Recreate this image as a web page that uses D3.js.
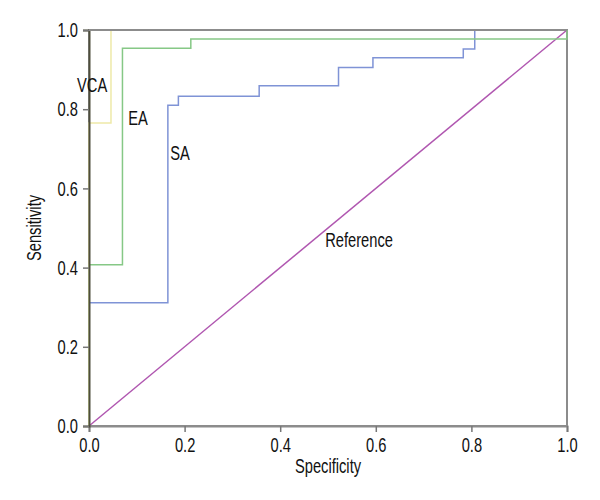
<!DOCTYPE html>
<html><head><meta charset="utf-8">
<script src="https://cdn.jsdelivr.net/npm/d3@7"></script>
<style>
body{margin:0;background:#fff;}
text{font-family:"Liberation Sans",Arial,sans-serif;}
</style></head>
<body>
<svg id="chart" width="600" height="500"></svg>
<script>
const tickValues = [0.0, 0.2, 0.4, 0.6, 0.8, 1.0];
const refX = [0, 1];
const refY = [0, 1];
const vcaX = [0, 0, 0.046, 0.046, 1];
const vcaY = [0, 0.765, 0.765, 1, 1];
const eaX = [0, 0, 0.07, 0.07, 0.213, 0.213, 1, 1];
const eaY = [0, 0.407, 0.407, 0.954, 0.954, 0.977, 0.977, 1];
const saX = [0, 0, 0.165, 0.165, 0.187, 0.187, 0.356, 0.356, 0.522, 0.522, 0.594, 0.594, 0.783, 0.783, 0.807, 0.807, 1];
const saY = [0, 0.311, 0.311, 0.81, 0.81, 0.833, 0.833, 0.859, 0.859, 0.905, 0.905, 0.93, 0.93, 0.952, 0.952, 1, 1];
const labelNames = ["VCA", "EA", "SA", "Reference"];
const labelX = [-0.025, 0.082, 0.17, 0.494];
const labelY = [0.843, 0.76, 0.672, 0.452];

const SX = 0.7;   // horizontal condensing of text
const FS = 21;
const svg = d3.select("#chart");
const x = d3.scaleLinear().domain([0, 1]).range([89, 567]);
const y = d3.scaleLinear().domain([0, 1]).range([426, 30]);
const fmt = d3.format(".1f");

svg.append("rect").attr("x", x(0)).attr("y", y(1)).attr("width", x(1) - x(0)).attr("height", y(0) - y(1))
  .attr("fill", "none").attr("stroke", "#8c8c8c").attr("stroke-width", 2);

const line = d3.line().x(d => x(d[0])).y(d => y(d[1]));
function series(xs, ys, color, w) {
  svg.append("path").attr("d", line(xs.map((v, i) => [v, ys[i]])))
    .attr("fill", "none").attr("stroke", color).attr("stroke-width", w);
}
series(refX, refY, "#b057b0", 1.5);
series(saX, saY, "#7f93d6", 1.5);
series(eaX, eaY, "#86c886", 1.5);
series(vcaX, vcaY, "#eee9a8", 1.5);

const xAxis = svg.append("g").attr("transform", `translate(0,${y(0)})`)
  .call(d3.axisBottom(x).tickValues(tickValues).tickFormat(fmt).tickSizeOuter(0).tickSize(6));
const yAxis = svg.append("g").attr("transform", `translate(${x(0)},0)`)
  .call(d3.axisLeft(y).tickValues(tickValues).tickFormat(fmt).tickSizeOuter(0).tickSize(6));
[xAxis, yAxis].forEach(g => {
  g.selectAll("text").attr("font-size", FS).attr("fill", "#111")
    .style("font-family", '"Liberation Sans",Arial,sans-serif')
    .attr("transform", `scale(${SX},1)`);
  g.selectAll("line").attr("stroke", "#777").attr("stroke-width", 1.5);
});
xAxis.select(".domain").attr("stroke", "#8c8c8c").attr("stroke-width", 2);
yAxis.select(".domain").attr("stroke", "#4e4e3c").attr("stroke-width", 2);
yAxis.selectAll(".tick text").attr("x", -11 / SX);
xAxis.selectAll(".tick text").attr("y", 11);

svg.append("line").attr("x1", x(0)).attr("x2", x(1)).attr("y1", y(1)).attr("y2", y(1))
  .attr("stroke", "#8c8c8c").attr("stroke-width", 2);

svg.selectAll(".lbl").data(labelNames).enter().append("text")
  .attr("transform", (d, i) => `translate(${x(labelX[i])},${y(labelY[i])}) scale(${SX},1)`)
  .attr("font-size", FS).attr("fill", "#111").text(d => d);

svg.append("text").attr("transform", `translate(${x(0.5)},473) scale(${SX},1)`).attr("text-anchor", "middle")
  .attr("font-size", FS).attr("fill", "#111").text("Specificity");
svg.append("text").attr("transform", `translate(41,${y(0.5)}) rotate(-90) scale(${SX},1)`).attr("text-anchor", "middle")
  .attr("font-size", FS).attr("fill", "#111").text("Sensitivity");
</script>
</body></html>
